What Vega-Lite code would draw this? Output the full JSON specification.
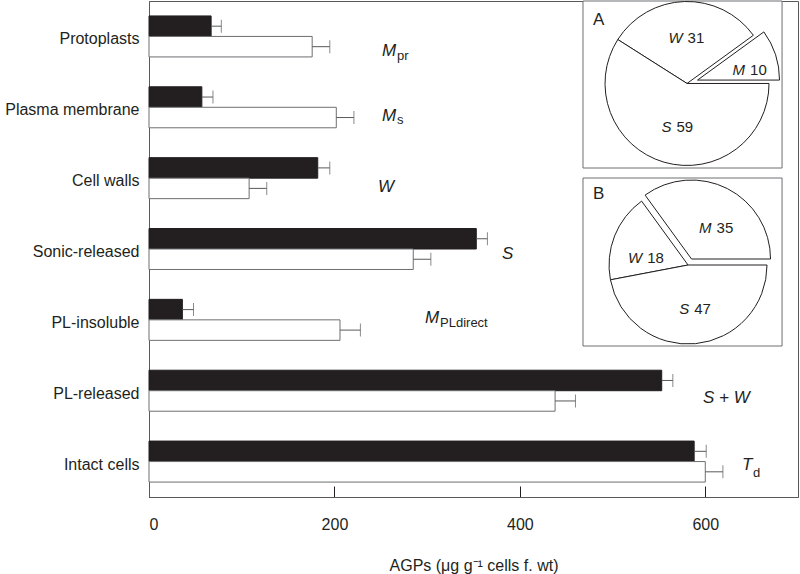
{
  "$schema": "https://vega.github.io/schema/vega-lite/v6.json",
  "width": 649,
  "height": 496,
  "autosize": {"type": "none"},
  "padding": {"left": 149, "top": 1, "right": 2, "bottom": 77},
  "background": "#ffffff",
  "config": {
    "font": "Liberation Sans",
    "view": {"stroke": "#58595b", "strokeWidth": 1},
    "text": {"font": "Liberation Sans", "color": "#231f20"}
  },
  "datasets": {
    "bars": [
      {"cat": "Protoplasts", "series": "black", "value": 67, "upper": 78},
      {"cat": "Protoplasts", "series": "white", "value": 176, "upper": 195},
      {"cat": "Plasma membrane", "series": "black", "value": 57, "upper": 69},
      {"cat": "Plasma membrane", "series": "white", "value": 202, "upper": 221},
      {"cat": "Cell walls", "series": "black", "value": 182, "upper": 195},
      {"cat": "Cell walls", "series": "white", "value": 108, "upper": 127},
      {"cat": "Sonic-released", "series": "black", "value": 353, "upper": 365},
      {"cat": "Sonic-released", "series": "white", "value": 285, "upper": 304},
      {"cat": "PL-insoluble", "series": "black", "value": 36, "upper": 48},
      {"cat": "PL-insoluble", "series": "white", "value": 206, "upper": 228},
      {"cat": "PL-released", "series": "black", "value": 553, "upper": 565},
      {"cat": "PL-released", "series": "white", "value": 438, "upper": 460},
      {"cat": "Intact cells", "series": "black", "value": 588, "upper": 601},
      {"cat": "Intact cells", "series": "white", "value": 600, "upper": 619}
    ],
    "notes": [
      {"cat": "Protoplasts", "id": "Mpr", "text": "M"},
      {"cat": "Protoplasts", "id": "pr", "text": "pr"},
      {"cat": "Plasma membrane", "id": "Ms", "text": "M"},
      {"cat": "Plasma membrane", "id": "s", "text": "s"},
      {"cat": "Cell walls", "id": "W", "text": "W"},
      {"cat": "Sonic-released", "id": "S", "text": "S"},
      {"cat": "PL-insoluble", "id": "Mpl", "text": "M"},
      {"cat": "PL-insoluble", "id": "pl", "text": "PLdirect"},
      {"cat": "PL-released", "id": "SW", "text": "S + W"},
      {"cat": "Intact cells", "id": "T", "text": "T"},
      {"cat": "Intact cells", "id": "d", "text": "d"}
    ],
    "pieA": [
      {"part": "W", "value": 31},
      {"part": "M", "value": 10},
      {"part": "S", "value": 59}
    ],
    "pieB": [
      {"part": "M", "value": 35},
      {"part": "W", "value": 18},
      {"part": "S", "value": 47}
    ]
  },
  "layer": [
    {
      "data": {"name": "bars"},
      "encoding": {
        "y": {
          "field": "cat", "type": "nominal",
          "sort": ["Protoplasts", "Plasma membrane", "Cell walls", "Sonic-released", "PL-insoluble", "PL-released", "Intact cells"],
          "scale": {"paddingInner": 0.4214, "paddingOuter": 0.2107},
          "axis": {"title": null, "ticks": false, "tickSize": 0, "labelPadding": 10, "labelFontSize": 16, "labelColor": "#231f20", "labelFont": "Liberation Sans", "domainColor": "#58595b", "labelOffset": 3, "labelLimit": 300}
        },
        "x": {
          "field": "value", "type": "quantitative",
          "scale": {"domain": [0, 700], "nice": false},
          "title": "AGPs (μg g⁻¹ cells f. wt)",
          "axis": {"values": [0, 200, 400, 600], "grid": false, "tickSize": -11, "tickColor": "#231f20", "labelPadding": 30, "labelFontSize": 16, "labelColor": "#231f20", "labelFont": "Liberation Sans", "domainColor": "#58595b", "titleFontSize": 16, "titleFontWeight": "normal", "titleColor": "#231f20", "titleFont": "Liberation Sans", "titleBaseline": "alphabetic", "titleY": 73}
        }
      },
      "layer": [
        {
          "mark": {"type": "bar", "strokeWidth": 1},
          "encoding": {
            "yOffset": {"field": "series", "sort": ["black", "white"], "scale": {"paddingInner": 0, "paddingOuter": 0}},
            "fill": {"field": "series", "scale": {"domain": ["black", "white"], "range": ["#231f20", "#ffffff"]}, "legend": null},
            "stroke": {"field": "series", "scale": {"domain": ["black", "white"], "range": ["#231f20", "#6d6e71"]}, "legend": null}
          }
        },
        {
          "mark": {"type": "rule", "color": "#58595b", "strokeWidth": 1},
          "encoding": {
            "yOffset": {"field": "series", "sort": ["black", "white"], "scale": {"paddingInner": 0, "paddingOuter": 0}},
            "x2": {"field": "upper"}
          }
        },
        {
          "mark": {"type": "tick", "orient": "vertical", "size": 13, "thickness": 1, "color": "#58595b"},
          "encoding": {
            "yOffset": {"field": "series", "sort": ["black", "white"], "scale": {"paddingInner": 0, "paddingOuter": 0}},
            "x": {"field": "upper", "type": "quantitative", "title": "AGPs (μg g⁻¹ cells f. wt)"}
          }
        }
      ]
    },
    {
      "layer": [
        {"data": {"values": [{"panel": "A"}]},
         "mark": {"type": "rect", "fill": "#ffffff", "stroke": "#6d6e71", "strokeWidth": 1},
         "encoding": {
           "x": {"datum": 468.1, "type": "quantitative", "scale": {"domain": [0, 700], "nice": false, "zero": false}, "axis": null}, "x2": {"datum": 682.8},
           "y": {"datum": 0, "type": "quantitative", "scale": {"domain": [0, 7], "reverse": true, "nice": false, "zero": false}, "axis": null}, "y2": {"datum": 2.357}
         }},
        {"data": {"values": [{"panel": "B"}]},
         "mark": {"type": "rect", "fill": "#ffffff", "stroke": "#6d6e71", "strokeWidth": 1},
         "encoding": {
           "x": {"datum": 468.1, "type": "quantitative", "scale": {"domain": [0, 700], "nice": false, "zero": false}, "axis": null}, "x2": {"datum": 682.8},
           "y": {"datum": 2.498, "type": "quantitative", "scale": {"domain": [0, 7], "reverse": true, "nice": false, "zero": false}, "axis": null}, "y2": {"datum": 4.869}
         }},
        {"data": {"values": [{"panel": "A"}]},
         "mark": {"type": "text", "align": "left", "baseline": "alphabetic", "fontSize": 17},
         "encoding": {
           "x": {"datum": 478.9, "type": "quantitative", "scale": {"domain": [0, 700], "nice": false, "zero": false}, "axis": null},
           "y": {"datum": 0.339, "type": "quantitative", "scale": {"domain": [0, 7], "reverse": true, "nice": false, "zero": false}, "axis": null},
           "text": {"field": "panel"}
         }},
        {"data": {"values": [{"panel": "B"}]},
         "mark": {"type": "text", "align": "left", "baseline": "alphabetic", "fontSize": 17},
         "encoding": {
           "x": {"datum": 478.9, "type": "quantitative", "scale": {"domain": [0, 700], "nice": false, "zero": false}, "axis": null},
           "y": {"datum": 2.794, "type": "quantitative", "scale": {"domain": [0, 7], "reverse": true, "nice": false, "zero": false}, "axis": null},
           "text": {"field": "panel"}
         }},
        {"data": {"name": "notes"}, "transform": [{"filter": "datum.id === 'Mpr'"}],
         "mark": {"type": "text", "align": "left", "baseline": "alphabetic", "fontStyle": "italic", "fontSize": 17},
         "encoding": {"x": {"datum": 251.3, "type": "quantitative", "scale": {"domain": [0, 700], "nice": false, "zero": false}, "axis": null}, "y": {"datum": 0.776, "type": "quantitative", "scale": {"domain": [0, 7], "reverse": true, "nice": false, "zero": false}, "axis": null}, "text": {"field": "text"}}},
        {"data": {"name": "notes"}, "transform": [{"filter": "datum.id === 'pr'"}],
         "mark": {"type": "text", "align": "left", "baseline": "alphabetic", "fontSize": 13},
         "encoding": {"x": {"datum": 267.5, "type": "quantitative", "scale": {"domain": [0, 700], "nice": false, "zero": false}, "axis": null}, "y": {"datum": 0.833, "type": "quantitative", "scale": {"domain": [0, 7], "reverse": true, "nice": false, "zero": false}, "axis": null}, "text": {"field": "text"}}},
        {"data": {"name": "notes"}, "transform": [{"filter": "datum.id === 'Ms'"}],
         "mark": {"type": "text", "align": "left", "baseline": "alphabetic", "fontStyle": "italic", "fontSize": 17},
         "encoding": {"x": {"datum": 251.3, "type": "quantitative", "scale": {"domain": [0, 700], "nice": false, "zero": false}, "axis": null}, "y": {"datum": 1.694, "type": "quantitative", "scale": {"domain": [0, 7], "reverse": true, "nice": false, "zero": false}, "axis": null}, "text": {"field": "text"}}},
        {"data": {"name": "notes"}, "transform": [{"filter": "datum.id === 's'"}],
         "mark": {"type": "text", "align": "left", "baseline": "alphabetic", "fontSize": 13},
         "encoding": {"x": {"datum": 267.5, "type": "quantitative", "scale": {"domain": [0, 700], "nice": false, "zero": false}, "axis": null}, "y": {"datum": 1.736, "type": "quantitative", "scale": {"domain": [0, 7], "reverse": true, "nice": false, "zero": false}, "axis": null}, "text": {"field": "text"}}},
        {"data": {"name": "notes"}, "transform": [{"filter": "datum.id === 'W'"}],
         "mark": {"type": "text", "align": "left", "baseline": "alphabetic", "fontStyle": "italic", "fontSize": 17},
         "encoding": {"x": {"datum": 247, "type": "quantitative", "scale": {"domain": [0, 700], "nice": false, "zero": false}, "axis": null}, "y": {"datum": 2.696, "type": "quantitative", "scale": {"domain": [0, 7], "reverse": true, "nice": false, "zero": false}, "axis": null}, "text": {"field": "text"}}},
        {"data": {"name": "notes"}, "transform": [{"filter": "datum.id === 'S'"}],
         "mark": {"type": "text", "align": "left", "baseline": "alphabetic", "fontStyle": "italic", "fontSize": 17},
         "encoding": {"x": {"datum": 380.8, "type": "quantitative", "scale": {"domain": [0, 700], "nice": false, "zero": false}, "axis": null}, "y": {"datum": 3.641, "type": "quantitative", "scale": {"domain": [0, 7], "reverse": true, "nice": false, "zero": false}, "axis": null}, "text": {"field": "text"}}},
        {"data": {"name": "notes"}, "transform": [{"filter": "datum.id === 'Mpl'"}],
         "mark": {"type": "text", "align": "left", "baseline": "alphabetic", "fontStyle": "italic", "fontSize": 17},
         "encoding": {"x": {"datum": 297.7, "type": "quantitative", "scale": {"domain": [0, 700], "nice": false, "zero": false}, "axis": null}, "y": {"datum": 4.544, "type": "quantitative", "scale": {"domain": [0, 7], "reverse": true, "nice": false, "zero": false}, "axis": null}, "text": {"field": "text"}}},
        {"data": {"name": "notes"}, "transform": [{"filter": "datum.id === 'pl'"}],
         "mark": {"type": "text", "align": "left", "baseline": "alphabetic", "fontSize": 13},
         "encoding": {"x": {"datum": 313.9, "type": "quantitative", "scale": {"domain": [0, 700], "nice": false, "zero": false}, "axis": null}, "y": {"datum": 4.601, "type": "quantitative", "scale": {"domain": [0, 7], "reverse": true, "nice": false, "zero": false}, "axis": null}, "text": {"field": "text"}}},
        {"data": {"name": "notes"}, "transform": [{"filter": "datum.id === 'SW'"}],
         "mark": {"type": "text", "align": "left", "baseline": "alphabetic", "fontStyle": "italic", "fontSize": 17},
         "encoding": {"x": {"datum": 597.6, "type": "quantitative", "scale": {"domain": [0, 700], "nice": false, "zero": false}, "axis": null}, "y": {"datum": 5.673, "type": "quantitative", "scale": {"domain": [0, 7], "reverse": true, "nice": false, "zero": false}, "axis": null}, "text": {"field": "text"}}},
        {"data": {"name": "notes"}, "transform": [{"filter": "datum.id === 'T'"}],
         "mark": {"type": "text", "align": "left", "baseline": "alphabetic", "fontStyle": "italic", "fontSize": 17},
         "encoding": {"x": {"datum": 639.6, "type": "quantitative", "scale": {"domain": [0, 700], "nice": false, "zero": false}, "axis": null}, "y": {"datum": 6.619, "type": "quantitative", "scale": {"domain": [0, 7], "reverse": true, "nice": false, "zero": false}, "axis": null}, "text": {"field": "text"}}},
        {"data": {"name": "notes"}, "transform": [{"filter": "datum.id === 'd'"}],
         "mark": {"type": "text", "align": "left", "baseline": "alphabetic", "fontSize": 13},
         "encoding": {"x": {"datum": 651.5, "type": "quantitative", "scale": {"domain": [0, 700], "nice": false, "zero": false}, "axis": null}, "y": {"datum": 6.718, "type": "quantitative", "scale": {"domain": [0, 7], "reverse": true, "nice": false, "zero": false}, "axis": null}, "text": {"field": "text"}}},
        {
          "data": {"name": "pieA"},
          "encoding": {
            "theta": {"field": "value", "type": "quantitative", "stack": true, "scale": {"domain": [0, 100], "range": [0.94248, 7.22566]}},
            "order": {"field": "part", "sort": "ascending"},
            "x": {"datum": 580.3, "type": "quantitative", "scale": {"domain": [0, 700], "nice": false, "zero": false}, "axis": null},
            "y": {"datum": 1.164, "type": "quantitative", "scale": {"domain": [0, 7], "reverse": true, "nice": false, "zero": false}, "axis": null}
          },
          "layer": [
            {"mark": {"type": "arc", "radius": 82, "fill": "#ffffff", "stroke": "#231f20", "strokeWidth": 1},
             "encoding": {"opacity": {"condition": {"test": "datum.part === 'M'", "value": 0}, "value": 1}}},
            {"mark": {"type": "arc", "radius": 82, "fill": "#ffffff", "stroke": "#231f20", "strokeWidth": 1, "xOffset": 10.5, "yOffset": -3.4},
             "encoding": {"opacity": {"condition": {"test": "datum.part === 'M'", "value": 1}, "value": 0}}},
            {"mark": {"type": "text", "radius": 45, "align": "right", "baseline": "middle", "dx": -3, "fontStyle": "italic", "fontSize": 15},
             "encoding": {"text": {"field": "part"}, "opacity": {"condition": {"test": "datum.part === 'M'", "value": 0}, "value": 1}}},
            {"mark": {"type": "text", "radius": 45, "align": "left", "baseline": "middle", "dx": 2, "fontSize": 15},
             "encoding": {"text": {"field": "value"}, "opacity": {"condition": {"test": "datum.part === 'M'", "value": 0}, "value": 1}}},
            {"mark": {"type": "text", "radius": 50, "align": "right", "baseline": "middle", "dx": 0, "dy": 5, "fontStyle": "italic", "fontSize": 15, "xOffset": 10.5, "yOffset": -3.4},
             "encoding": {"text": {"field": "part"}, "opacity": {"condition": {"test": "datum.part === 'M'", "value": 1}, "value": 0}}},
            {"mark": {"type": "text", "radius": 50, "align": "left", "baseline": "middle", "dx": 5, "dy": 5, "fontSize": 15, "xOffset": 10.5, "yOffset": -3.4},
             "encoding": {"text": {"field": "value"}, "opacity": {"condition": {"test": "datum.part === 'M'", "value": 1}, "value": 0}}}
          ]
        },
        {
          "data": {"name": "pieB"},
          "encoding": {
            "theta": {"field": "value", "type": "quantitative", "stack": true, "scale": {"domain": [0, 100], "range": [5.65487, 11.93805]}},
            "order": {"field": "part", "sort": "ascending"},
            "x": {"datum": 581.4, "type": "quantitative", "scale": {"domain": [0, 700], "nice": false, "zero": false}, "axis": null},
            "y": {"datum": 3.726, "type": "quantitative", "scale": {"domain": [0, 7], "reverse": true, "nice": false, "zero": false}, "axis": null}
          },
          "layer": [
            {"mark": {"type": "arc", "radius": 79, "fill": "#ffffff", "stroke": "#231f20", "strokeWidth": 1},
             "encoding": {"opacity": {"condition": {"test": "datum.part === 'M'", "value": 0}, "value": 1}}},
            {"mark": {"type": "arc", "radius": 79, "fill": "#ffffff", "stroke": "#231f20", "strokeWidth": 1, "xOffset": 3.5, "yOffset": -6},
             "encoding": {"opacity": {"condition": {"test": "datum.part === 'M'", "value": 1}, "value": 0}}},
            {"mark": {"type": "text", "radius": 44, "align": "right", "baseline": "middle", "dx": -3, "fontStyle": "italic", "fontSize": 15},
             "encoding": {"text": {"field": "part"}, "opacity": {"condition": {"test": "datum.part === 'S'", "value": 1}, "value": 0}}},
            {"mark": {"type": "text", "radius": 44, "align": "left", "baseline": "middle", "dx": 2, "fontSize": 15},
             "encoding": {"text": {"field": "value"}, "opacity": {"condition": {"test": "datum.part === 'S'", "value": 1}, "value": 0}}},
            {"mark": {"type": "text", "radius": 44, "align": "right", "baseline": "middle", "dx": -5, "dy": 9, "fontStyle": "italic", "fontSize": 15},
             "encoding": {"text": {"field": "part"}, "opacity": {"condition": {"test": "datum.part === 'W'", "value": 1}, "value": 0}}},
            {"mark": {"type": "text", "radius": 44, "align": "left", "baseline": "middle", "dx": 0, "dy": 9, "fontSize": 15},
             "encoding": {"text": {"field": "value"}, "opacity": {"condition": {"test": "datum.part === 'W'", "value": 1}, "value": 0}}},
            {"mark": {"type": "text", "radius": 42, "align": "right", "baseline": "middle", "dx": 1, "dy": 6, "fontStyle": "italic", "fontSize": 15, "xOffset": 3.5, "yOffset": -6},
             "encoding": {"text": {"field": "part"}, "opacity": {"condition": {"test": "datum.part === 'M'", "value": 1}, "value": 0}}},
            {"mark": {"type": "text", "radius": 42, "align": "left", "baseline": "middle", "dx": 6, "dy": 6, "fontSize": 15, "xOffset": 3.5, "yOffset": -6},
             "encoding": {"text": {"field": "value"}, "opacity": {"condition": {"test": "datum.part === 'M'", "value": 1}, "value": 0}}}
          ]
        }
      ],
      "resolve": {"scale": {"theta": "independent"}}
    }
  ],
  "resolve": {"scale": {"y": "independent", "x": "independent"}}
}
